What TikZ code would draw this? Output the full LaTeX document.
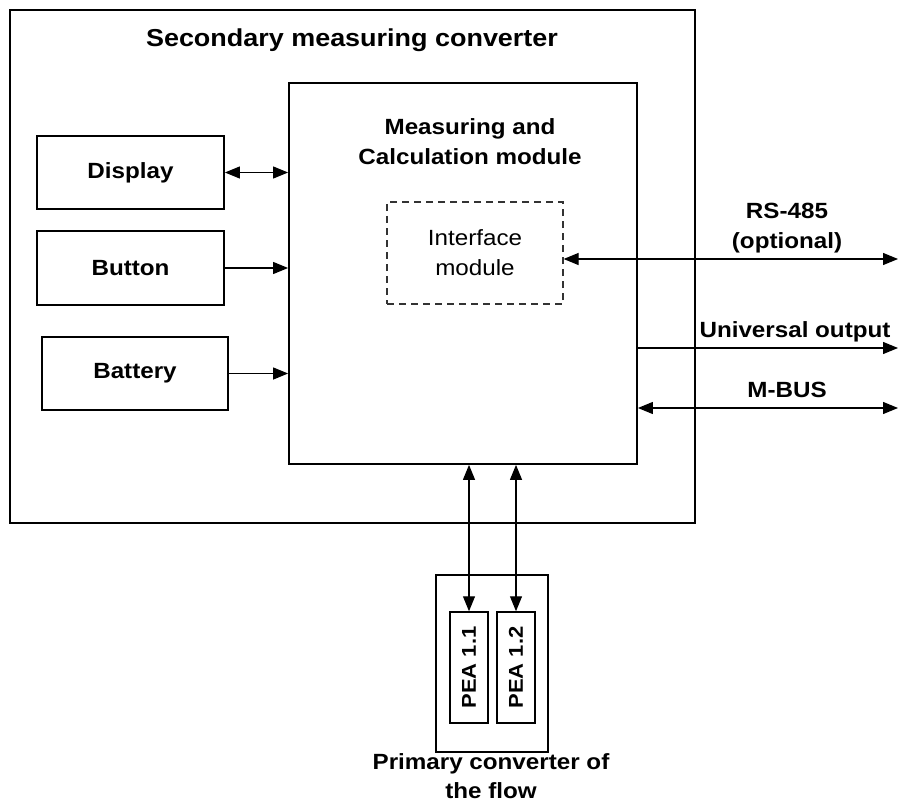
\documentclass[tikz,border=0pt]{standalone}
\usepackage{fontspec}
\setmainfont{Liberation Sans}[FakeStretch=1.1]
\usetikzlibrary{arrows.meta}
\begin{document}
\begin{tikzpicture}[x=1pt,y=-1pt,
  box/.style={draw,line width=1.8pt,rectangle,inner sep=0pt},
  lab/.style={font=\fontsize{22}{30}\selectfont\bfseries,align=center,inner sep=0pt},
  conn/.style={line width=1.2pt,-{Triangle[length=15pt,width=12pt]}},
  bconn/.style={line width=1.2pt,{Triangle[length=15pt,width=12pt]}-{Triangle[length=15pt,width=12pt]}}]
\useasboundingbox (0,0) rectangle (899,805);
% boxes
\node[box,minimum width=685pt,minimum height=513pt] (outer) at (352.5,266.5) {};
\node[box,minimum width=348pt,minimum height=381pt] (main) at (463,273.5) {};
\node[draw=black!80,line width=1.2pt,dash pattern=on 7pt off 5pt,minimum width=176pt,minimum height=102pt,inner sep=0pt,align=center,font=\fontsize{22}{30}\selectfont] (iface) at (475,253) {Interface\\module};
\node[box,minimum width=187pt,minimum height=73pt,lab] (disp) at (130.5,172.5) {Display};
\node[box,minimum width=187pt,minimum height=74pt,lab] (btn) at (130.5,268) {Button};
\node[box,minimum width=186pt,minimum height=73pt,lab] (bat) at (135,373.5) {Battery};
\node[box,minimum width=112pt,minimum height=177pt] (prim) at (492,663.5) {};
\node[box,line width=1.5pt,minimum width=38pt,minimum height=111pt] (pea1) at (469,667.5) {};
\node[box,line width=1.5pt,minimum width=38pt,minimum height=111pt] (pea2) at (516,667.5) {};
\node[lab,rotate=90,font=\fontsize{20}{24}\selectfont\bfseries] (pea1t) at (pea1.center) {PEA 1.1};
\node[lab,rotate=90,font=\fontsize{20}{24}\selectfont\bfseries] (pea2t) at (pea2.center) {PEA 1.2};
% labels
\node[lab,font=\fontsize{24.5}{30}\selectfont\bfseries] (title) at (352,40) {Secondary measuring converter};
\node[lab] (mtitle) at (470,142) {Measuring and\\Calculation module};
\node[lab] (rslab) at (787,228) {RS-485\\(optional)};
\node[lab] (uolab) at (795,332) {Universal output};
\node[lab] (mblab) at (787,390) {M-BUS};
\node[lab,font=\fontsize{22}{29}\selectfont\bfseries] (plab) at (491,776) {Primary converter of\\the flow};
% connector ends
\coordinate (rs) at (898,259);
\coordinate (uo) at (898,348);
\coordinate (mb) at (898,408);
% connectors
\draw[bconn] (disp.east) -- (disp.east -| main.west);
\draw[conn] (btn.east) -- (btn.east -| main.west);
\draw[conn] (bat.east) -- (bat.east -| main.west);
\draw[bconn] (rs -| iface.east) -- (rs);
\draw[conn] (uo -| main.east) -- (uo);
\draw[bconn] (mb -| main.east) -- (mb);
\draw[bconn] (pea1.north |- main.south) -- (pea1.north);
\draw[bconn] (pea2.north |- main.south) -- (pea2.north);
\end{tikzpicture}
\end{document}
